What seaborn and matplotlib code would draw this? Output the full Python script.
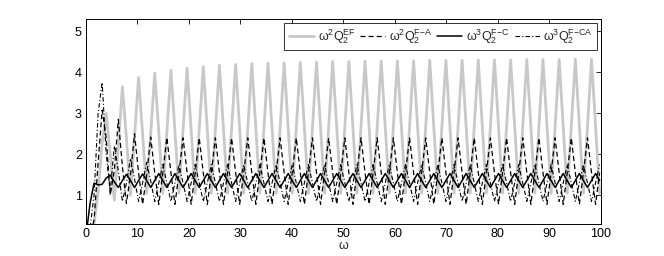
import numpy as np
import pandas as pd
import matplotlib
matplotlib.use("Agg")
import matplotlib.pyplot as plt
import seaborn as sns

# values at omega = i * pi/4 (quarter periods)
omega = np.arange(128) * np.pi / 4

q_ef = [
    0.00, 0.10, 0.30, 1.10, 2.30, 3.00, 2.00, 0.88, 2.20, 3.65, 2.40, 1.00, 2.45, 3.87, 2.50, 1.05,
    2.50, 3.98, 2.55, 1.05, 2.55, 4.05, 2.55, 1.05, 2.60, 4.10, 2.60, 1.05, 2.60, 4.14, 2.60, 1.05,
    2.62, 4.17, 2.62, 1.05, 2.62, 4.19, 2.62, 1.05, 2.63, 4.21, 2.63, 1.05, 2.63, 4.22, 2.63, 1.05,
    2.64, 4.23, 2.64, 1.05, 2.64, 4.24, 2.64, 1.05, 2.65, 4.25, 2.65, 1.05, 2.65, 4.26, 2.65, 1.05,
    2.65, 4.26, 2.65, 1.05, 2.66, 4.27, 2.66, 1.05, 2.66, 4.27, 2.66, 1.05, 2.66, 4.28, 2.66, 1.05,
    2.66, 4.28, 2.66, 1.05, 2.67, 4.29, 2.67, 1.05, 2.67, 4.29, 2.67, 1.05, 2.67, 4.29, 2.67, 1.05,
    2.67, 4.30, 2.67, 1.05, 2.67, 4.30, 2.67, 1.05, 2.67, 4.30, 2.67, 1.05, 2.68, 4.31, 2.68, 1.05,
    2.68, 4.31, 2.68, 1.05, 2.68, 4.31, 2.68, 1.05, 2.68, 4.32, 2.68, 1.05, 2.68, 4.32, 2.68, 1.05,
]

q_fa = [
    0.00, 0.00, 0.40, 1.80, 3.08, 2.40, 1.00, 1.60, 2.85, 1.70, 0.80, 1.50, 2.50, 1.55, 0.78, 1.50,
    2.42, 1.55, 0.78, 1.55, 2.41, 1.55, 0.78, 1.55, 2.40, 1.55, 0.78, 1.55, 2.40, 1.55, 0.78, 1.55,
    2.40, 1.55, 0.78, 1.55, 2.40, 1.55, 0.78, 1.55, 2.40, 1.55, 0.78, 1.55, 2.40, 1.55, 0.78, 1.55,
    2.40, 1.55, 0.78, 1.55, 2.40, 1.55, 0.78, 1.55, 2.40, 1.55, 0.78, 1.55, 2.40, 1.55, 0.78, 1.55,
    2.40, 1.55, 0.78, 1.55, 2.40, 1.55, 0.78, 1.55, 2.40, 1.55, 0.78, 1.55, 2.40, 1.55, 0.78, 1.55,
    2.40, 1.55, 0.78, 1.55, 2.40, 1.55, 0.78, 1.55, 2.40, 1.55, 0.78, 1.55, 2.40, 1.55, 0.78, 1.55,
    2.40, 1.55, 0.78, 1.55, 2.40, 1.55, 0.78, 1.55, 2.40, 1.55, 0.78, 1.55, 2.40, 1.55, 0.78, 1.55,
    2.40, 1.55, 0.78, 1.55, 2.40, 1.55, 0.78, 1.55, 2.40, 1.55, 0.78, 1.55, 2.40, 1.55, 0.78, 1.55,
]

q_fc = [
    0.00, 0.80, 1.30, 1.25, 1.27, 1.42, 1.49, 1.33, 1.19, 1.36, 1.51, 1.36, 1.19, 1.36, 1.52, 1.36,
    1.19, 1.36, 1.53, 1.36, 1.19, 1.36, 1.53, 1.36, 1.19, 1.36, 1.53, 1.36, 1.19, 1.36, 1.53, 1.36,
    1.19, 1.36, 1.53, 1.36, 1.19, 1.36, 1.53, 1.36, 1.19, 1.36, 1.53, 1.36, 1.19, 1.36, 1.53, 1.36,
    1.19, 1.36, 1.53, 1.36, 1.19, 1.36, 1.53, 1.36, 1.19, 1.36, 1.53, 1.36, 1.19, 1.36, 1.53, 1.36,
    1.19, 1.36, 1.53, 1.36, 1.19, 1.36, 1.53, 1.36, 1.19, 1.36, 1.53, 1.36, 1.19, 1.36, 1.53, 1.36,
    1.19, 1.36, 1.53, 1.36, 1.19, 1.36, 1.53, 1.36, 1.19, 1.36, 1.53, 1.36, 1.19, 1.36, 1.53, 1.36,
    1.19, 1.36, 1.53, 1.36, 1.19, 1.36, 1.53, 1.36, 1.19, 1.36, 1.53, 1.36, 1.19, 1.36, 1.53, 1.36,
    1.19, 1.36, 1.53, 1.36, 1.19, 1.36, 1.53, 1.36, 1.19, 1.36, 1.53, 1.36, 1.19, 1.36, 1.53, 1.36,
]

q_fca = [
    0.00, 0.20, 1.00, 3.00, 3.75, 2.00, 1.10, 2.20, 1.60, 0.85, 1.30, 1.90, 1.40, 0.85, 1.30, 1.80,
    1.35, 0.85, 1.30, 1.75, 1.30, 0.85, 1.30, 1.75, 1.30, 0.85, 1.30, 1.75, 1.30, 0.85, 1.30, 1.75,
    1.30, 0.85, 1.30, 1.75, 1.30, 0.85, 1.30, 1.75, 1.30, 0.85, 1.30, 1.75, 1.30, 0.85, 1.30, 1.75,
    1.30, 0.85, 1.30, 1.75, 1.30, 0.85, 1.30, 1.75, 1.30, 0.85, 1.30, 1.75, 1.30, 0.85, 1.30, 1.75,
    1.30, 0.85, 1.30, 1.75, 1.30, 0.85, 1.30, 1.75, 1.30, 0.85, 1.30, 1.75, 1.30, 0.85, 1.30, 1.75,
    1.30, 0.85, 1.30, 1.75, 1.30, 0.85, 1.30, 1.75, 1.30, 0.85, 1.30, 1.75, 1.30, 0.85, 1.30, 1.75,
    1.30, 0.85, 1.30, 1.75, 1.30, 0.85, 1.30, 1.75, 1.30, 0.85, 1.30, 1.75, 1.30, 0.85, 1.30, 1.75,
    1.30, 0.85, 1.30, 1.75, 1.30, 0.85, 1.30, 1.75, 1.30, 0.85, 1.30, 1.75, 1.30, 0.85, 1.30, 1.75,
]

labels = [
    r"ω$^2$Q$_2^{\mathrm{EF}}$",
    r"ω$^2$Q$_2^{\mathrm{F{-}A}}$",
    r"ω$^3$Q$_2^{\mathrm{F{-}C}}$",
    r"ω$^3$Q$_2^{\mathrm{F{-}CA}}$",
]

x_ticks = list(range(0, 101, 10))
y_ticks = [1, 2, 3, 4, 5]


def main():
    sns.set_style("white")
    plt.rcParams["font.family"] = ["Liberation Sans", "DejaVu Sans"]
    plt.rcParams["mathtext.fontset"] = "custom"
    plt.rcParams["mathtext.rm"] = "Liberation Sans"
    plt.rcParams["mathtext.it"] = "Liberation Sans"

    df = pd.DataFrame({"omega": omega, "ef": q_ef, "fa": q_fa, "fc": q_fc, "fca": q_fca})

    fig = plt.figure(figsize=(6.64, 2.56), dpi=100)
    ax = fig.add_axes([0.1295, 0.125, 0.7755, 0.801])

    sns.lineplot(data=df, x="omega", y="ef", ax=ax, color="#c8c8c8", lw=2.0, label=labels[0])
    sns.lineplot(data=df, x="omega", y="fa", ax=ax, color="black", lw=0.9,
                 label=labels[1]).lines[-1].set_dashes([4, 2.5])
    sns.lineplot(data=df, x="omega", y="fc", ax=ax, color="black", lw=1.1, label=labels[2])
    sns.lineplot(data=df, x="omega", y="fca", ax=ax, color="black", lw=0.8,
                 label=labels[3]).lines[-1].set_dashes([4, 2, 1, 2])

    ax.set_xlim(0, 100)
    ax.set_ylim(0.3, 5.3)
    ax.set_xticks(x_ticks)
    ax.set_yticks(y_ticks)
    ax.set_xlabel("ω", fontsize=9, labelpad=0)
    ax.set_ylabel("")
    ax.tick_params(direction="in", top=True, right=True, length=3.5, width=0.6,
                   labelsize=9, pad=3, colors="black")
    for sp in ax.spines.values():
        sp.set_color("black")
        sp.set_linewidth(0.7)

    leg = ax.legend(loc="upper right", ncol=4, fontsize=9, frameon=True, fancybox=False,
                    handlelength=2.0, handletextpad=0.3, columnspacing=0.4,
                    borderpad=0.35, borderaxespad=0.3)
    leg.get_frame().set_edgecolor("black")
    leg.get_frame().set_linewidth(0.7)

    fig.savefig("out.png", dpi=100)


if __name__ == "__main__":
    main()
